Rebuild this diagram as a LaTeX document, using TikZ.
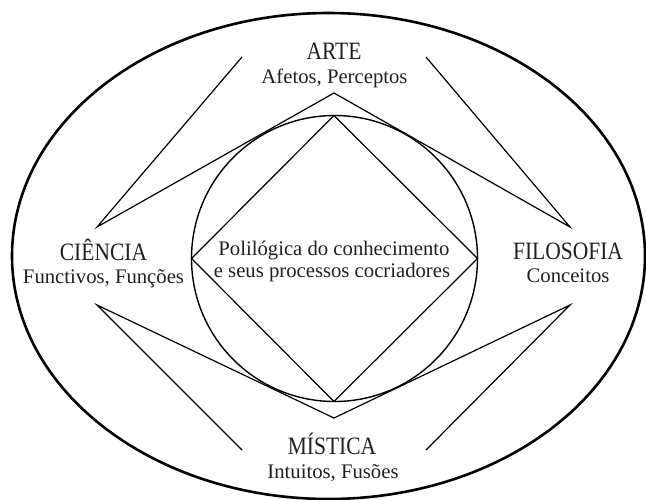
\documentclass[tikz,border=0pt]{standalone}
\usepackage{fontspec}
\setmainfont{Liberation Serif}
\newfontfamily\titlefont{Liberation Serif}[FakeStretch=0.86]
\definecolor{ink}{HTML}{231F20}
\begin{document}
\begin{tikzpicture}[x=1pt,y=-1pt,
  title/.style={inner sep=0pt, anchor=base, text=ink, font=\titlefont\fontsize{25}{28}\selectfont},
  sub/.style={inner sep=0pt, anchor=base, text=ink, font=\fontsize{20.7}{23}\selectfont},
  thin line/.style={line width=1.2pt, black, line join=miter},
  outer line/.style={line width=2.6pt, black}]
\useasboundingbox (0,0) rectangle (646,499);
% outer ellipse
\draw[outer line] (328.5,256) ellipse [x radius=316.5pt, y radius=243pt];
% inner circle
\coordinate (c) at (334.5,258.5);
\draw[thin line, line width=1.4pt] (c) circle [radius=143pt];
% diamond
\coordinate (dt) at (334,115.5);
\coordinate (dr) at (477.5,258.5);
\coordinate (db) at (334,401.5);
\coordinate (dl) at (191.5,258.5);
\draw[thin line] (dt) -- (dr) -- (db) -- (dl) -- cycle;
% upper zig-zag
\coordinate (a1) at (242,57);
\coordinate (a2) at (97,227);
\coordinate (a3) at (334,93);
\coordinate (a4) at (570,227);
\coordinate (a5) at (426,57);
\draw[thin line] (a1) -- (a2) -- (a3) -- (a4) -- (a5);
% lower zig-zag
\coordinate (b1) at (242,450);
\coordinate (b2) at (97,305);
\coordinate (b3) at (334,418);
\coordinate (b4) at (570,305);
\coordinate (b5) at (426,450);
\draw[thin line] (b1) -- (b2) -- (b3) -- (b4) -- (b5);
% texts
\node[title] (arte) at (334,59) {ARTE};
\node[sub] (artesub) at (334.5,83) {Afetos, Perceptos};
\node[title] (ciencia) at (103.5,260) {CIÊNCIA};
\node[sub] (cienciasub) at (103.5,283) {Functivos, Funções};
\node[title] (filo) at (568,259) {FILOSOFIA};
\node[sub] (filosub) at (568,282) {Conceitos};
\node[title] (mistica) at (332,454) {MÍSTICA};
\node[sub] (misticasub) at (333,478) {Intuitos, Fusões};
\node[sub] (centro1) at (334,255) {Polilógica do conhecimento};
\node[sub] (centro2) at (332,277) {e seus processos cocriadores};
\end{tikzpicture}
\end{document}
